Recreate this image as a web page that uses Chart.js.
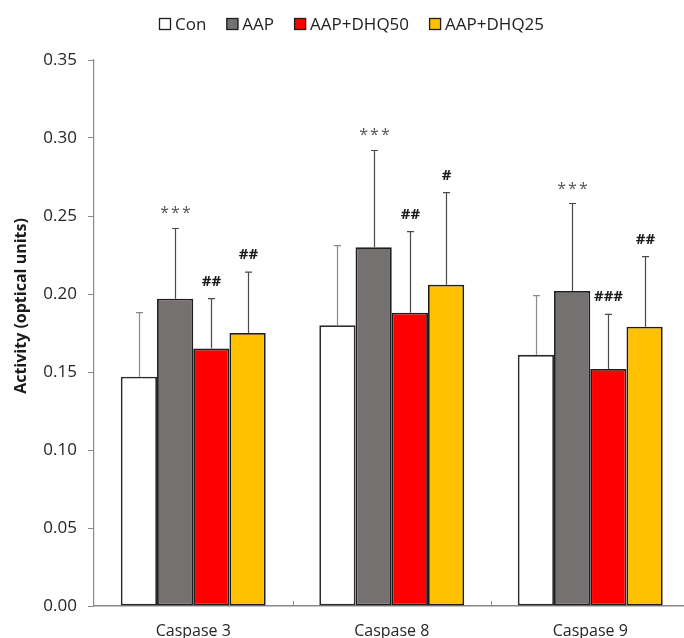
<!DOCTYPE html>
<html>
<head>
<meta charset="utf-8">
<script src="https://cdn.jsdelivr.net/npm/chart.js@4/dist/chart.umd.min.js"></script>
<style>
  html, body { margin: 0; padding: 0; background: #ffffff; overflow: hidden; }
  #wrap { width: 700px; height: 638px; }
</style>
</head>
<body>
<div id="wrap"><canvas id="c" width="700" height="638"></canvas></div>
<script>
// Caspase activity per treatment group (mean and SD, optical units)
const categories = ['Caspase 3', 'Caspase 8', 'Caspase 9'];
const seriesNames = ['Con', 'AAP', 'AAP+DHQ50', 'AAP+DHQ25'];

const conMean   = [0.147, 0.180, 0.161];
const conSD     = [0.041, 0.051, 0.038];
const aapMean   = [0.197, 0.230, 0.202];
const aapSD     = [0.045, 0.062, 0.056];
const dhq50Mean = [0.165, 0.188, 0.152];
const dhq50SD   = [0.032, 0.052, 0.035];
const dhq25Mean = [0.175, 0.206, 0.179];
const dhq25SD   = [0.039, 0.059, 0.045];

// significance marks printed above each error bar
const conMarks   = ['', '', ''];
const aapMarks   = ['***', '***', '***'];
const dhq50Marks = ['##', '##', '###'];
const dhq25Marks = ['##', '#', '##'];

// value axis
const yMin = 0;
const yMax = 0.35;
const yStep = 0.05;
const yTickDecimals = 2;
const yTitle = 'Activity (optical units)';

const FONT = '"Open Sans", "Liberation Sans", sans-serif';

const series = [
  { mean: conMean,   sd: conSD,   marks: conMarks,   fill: '#ffffff', edge: '#2b2b2b', err: '#8a8a8a' },
  { mean: aapMean,   sd: aapSD,   marks: aapMarks,   fill: '#767171', edge: '#1e1e1e', err: '#4a4a4a' },
  { mean: dhq50Mean, sd: dhq50SD, marks: dhq50Marks, fill: '#ff0000', edge: '#1e1e1e', err: '#4a4a4a' },
  { mean: dhq25Mean, sd: dhq25SD, marks: dhq25Marks, fill: '#ffc000', edge: '#1e1e1e', err: '#4a4a4a' }
];

const datasets = series.map((s, i) => ({
  label: seriesNames[i],
  data: s.mean,
  backgroundColor: s.fill,
  borderColor: s.edge,
  borderWidth: 1.8,
  borderSkipped: false,
  barPercentage: 1.0,
  categoryPercentage: 0.73,
  sd: s.sd,
  marks: s.marks,
  errColor: s.err
}));

// upper error bars with caps, plus the significance marks above them
const errorBarPlugin = {
  id: 'errorBars',
  afterDatasetsDraw(chart) {
    const ctx = chart.ctx;
    const y = chart.scales.y;
    chart.data.datasets.forEach((ds, di) => {
      const meta = chart.getDatasetMeta(di);
      meta.data.forEach((bar, i) => {
        const top = y.getPixelForValue(ds.data[i] + ds.sd[i]);
        const x = Math.round(bar.x) + 0.5;
        ctx.save();
        ctx.strokeStyle = ds.errColor;
        ctx.lineWidth = 1.2;
        ctx.beginPath();
        ctx.moveTo(x, bar.y);
        ctx.lineTo(x, top);
        ctx.moveTo(x - 3.5, top);
        ctx.lineTo(x + 3.5, top);
        ctx.stroke();

        const mark = ds.marks[i];
        if (mark) {
          const isStar = mark.indexOf('*') >= 0;
          ctx.font = isStar ? ('16px ' + FONT) : ('bold 15px ' + FONT);
          ctx.fillStyle = isStar ? '#555555' : '#1a1a1a';
          if ('letterSpacing' in ctx) ctx.letterSpacing = isStar ? '2px' : '0px';
          ctx.textAlign = 'center';
          ctx.textBaseline = 'alphabetic';
          const m = ctx.measureText(mark);
          const center = top - 18;
          const base = center + (m.actualBoundingBoxAscent - m.actualBoundingBoxDescent) / 2;
          ctx.fillText(mark, x + (isStar ? 1 : 0), base);
        }
        ctx.restore();
      });
    });
  }
};

// legend row, vertical axis title and small boundary ticks on the category axis
const decorPlugin = {
  id: 'decor',
  afterDraw(chart) {
    const ctx = chart.ctx;
    const area = chart.chartArea;

    // inward tick marks between categories
    const n = chart.data.labels.length;
    const step = (area.right - area.left) / n;
    ctx.save();
    ctx.strokeStyle = '#8a8a8a';
    ctx.lineWidth = 1;
    for (let k = 1; k < n; k++) {
      const px = Math.round(area.left + k * step) + 0.5;
      ctx.beginPath();
      ctx.moveTo(px, area.bottom);
      ctx.lineTo(px, area.bottom - 5);
      ctx.stroke();
    }
    ctx.restore();

    // axis title
    ctx.save();
    ctx.font = 'bold 16px ' + FONT;
    ctx.fillStyle = '#1a1a1a';
    ctx.textAlign = 'center';
    ctx.textBaseline = 'middle';
    ctx.translate(21, 306);
    ctx.rotate(-Math.PI / 2);
    ctx.fillText(yTitle, 0, 0);
    ctx.restore();

    // legend
    ctx.save();
    ctx.font = '17px ' + FONT;
    ctx.textBaseline = 'middle';
    ctx.textAlign = 'left';
    const box = 12, textGap = 4, itemGap = 20;
    const widths = chart.data.datasets.map(d => ctx.measureText(d.label).width);
    const total = widths.reduce((a, w) => a + box + textGap + w, 0) + itemGap * (widths.length - 1);
    let lx = Math.round(352 - total / 2);
    const ly = 24;
    chart.data.datasets.forEach((d, i) => {
      ctx.fillStyle = d.backgroundColor;
      ctx.fillRect(lx, ly - box / 2, box, box);
      ctx.strokeStyle = '#1e1e1e';
      ctx.lineWidth = 1.3;
      ctx.strokeRect(lx + 0.5, ly - box / 2 + 0.5, box - 1, box - 1);
      ctx.fillStyle = '#222222';
      ctx.fillText(d.label, lx + box + textGap, ly + 1);
      lx += box + textGap + widths[i] + itemGap;
    });
    ctx.restore();
  }
};

new Chart(document.getElementById('c'), {
  type: 'bar',
  data: { labels: categories, datasets: datasets },
  options: {
    responsive: false,
    animation: false,
    devicePixelRatio: 1,
    layout: { padding: { top: 60, right: 10.5, left: 0, bottom: 0 } },
    plugins: {
      legend: { display: false },
      tooltip: { enabled: false }
    },
    scales: {
      x: {
        grid: { display: false },
        border: { display: true, color: '#8a8a8a', width: 1.5 },
        ticks: { color: '#262626', font: { family: FONT, size: 16 }, padding: 8, maxRotation: 0 },
        afterFit(scale) { scale.height = 32; }
      },
      y: {
        min: yMin,
        max: yMax,
        grid: { display: true, drawOnChartArea: false, drawTicks: true, tickLength: 6, color: '#8a8a8a' },
        border: { display: true, color: '#8a8a8a', width: 1.2 },
        ticks: {
          stepSize: yStep,
          color: '#262626',
          font: { family: FONT, size: 17 },
          padding: 11,
          callback: v => Number(v).toFixed(yTickDecimals)
        },
        afterFit(scale) { scale.width = 94; }
      }
    }
  },
  plugins: [errorBarPlugin, decorPlugin]
});
</script>
</body>
</html>
